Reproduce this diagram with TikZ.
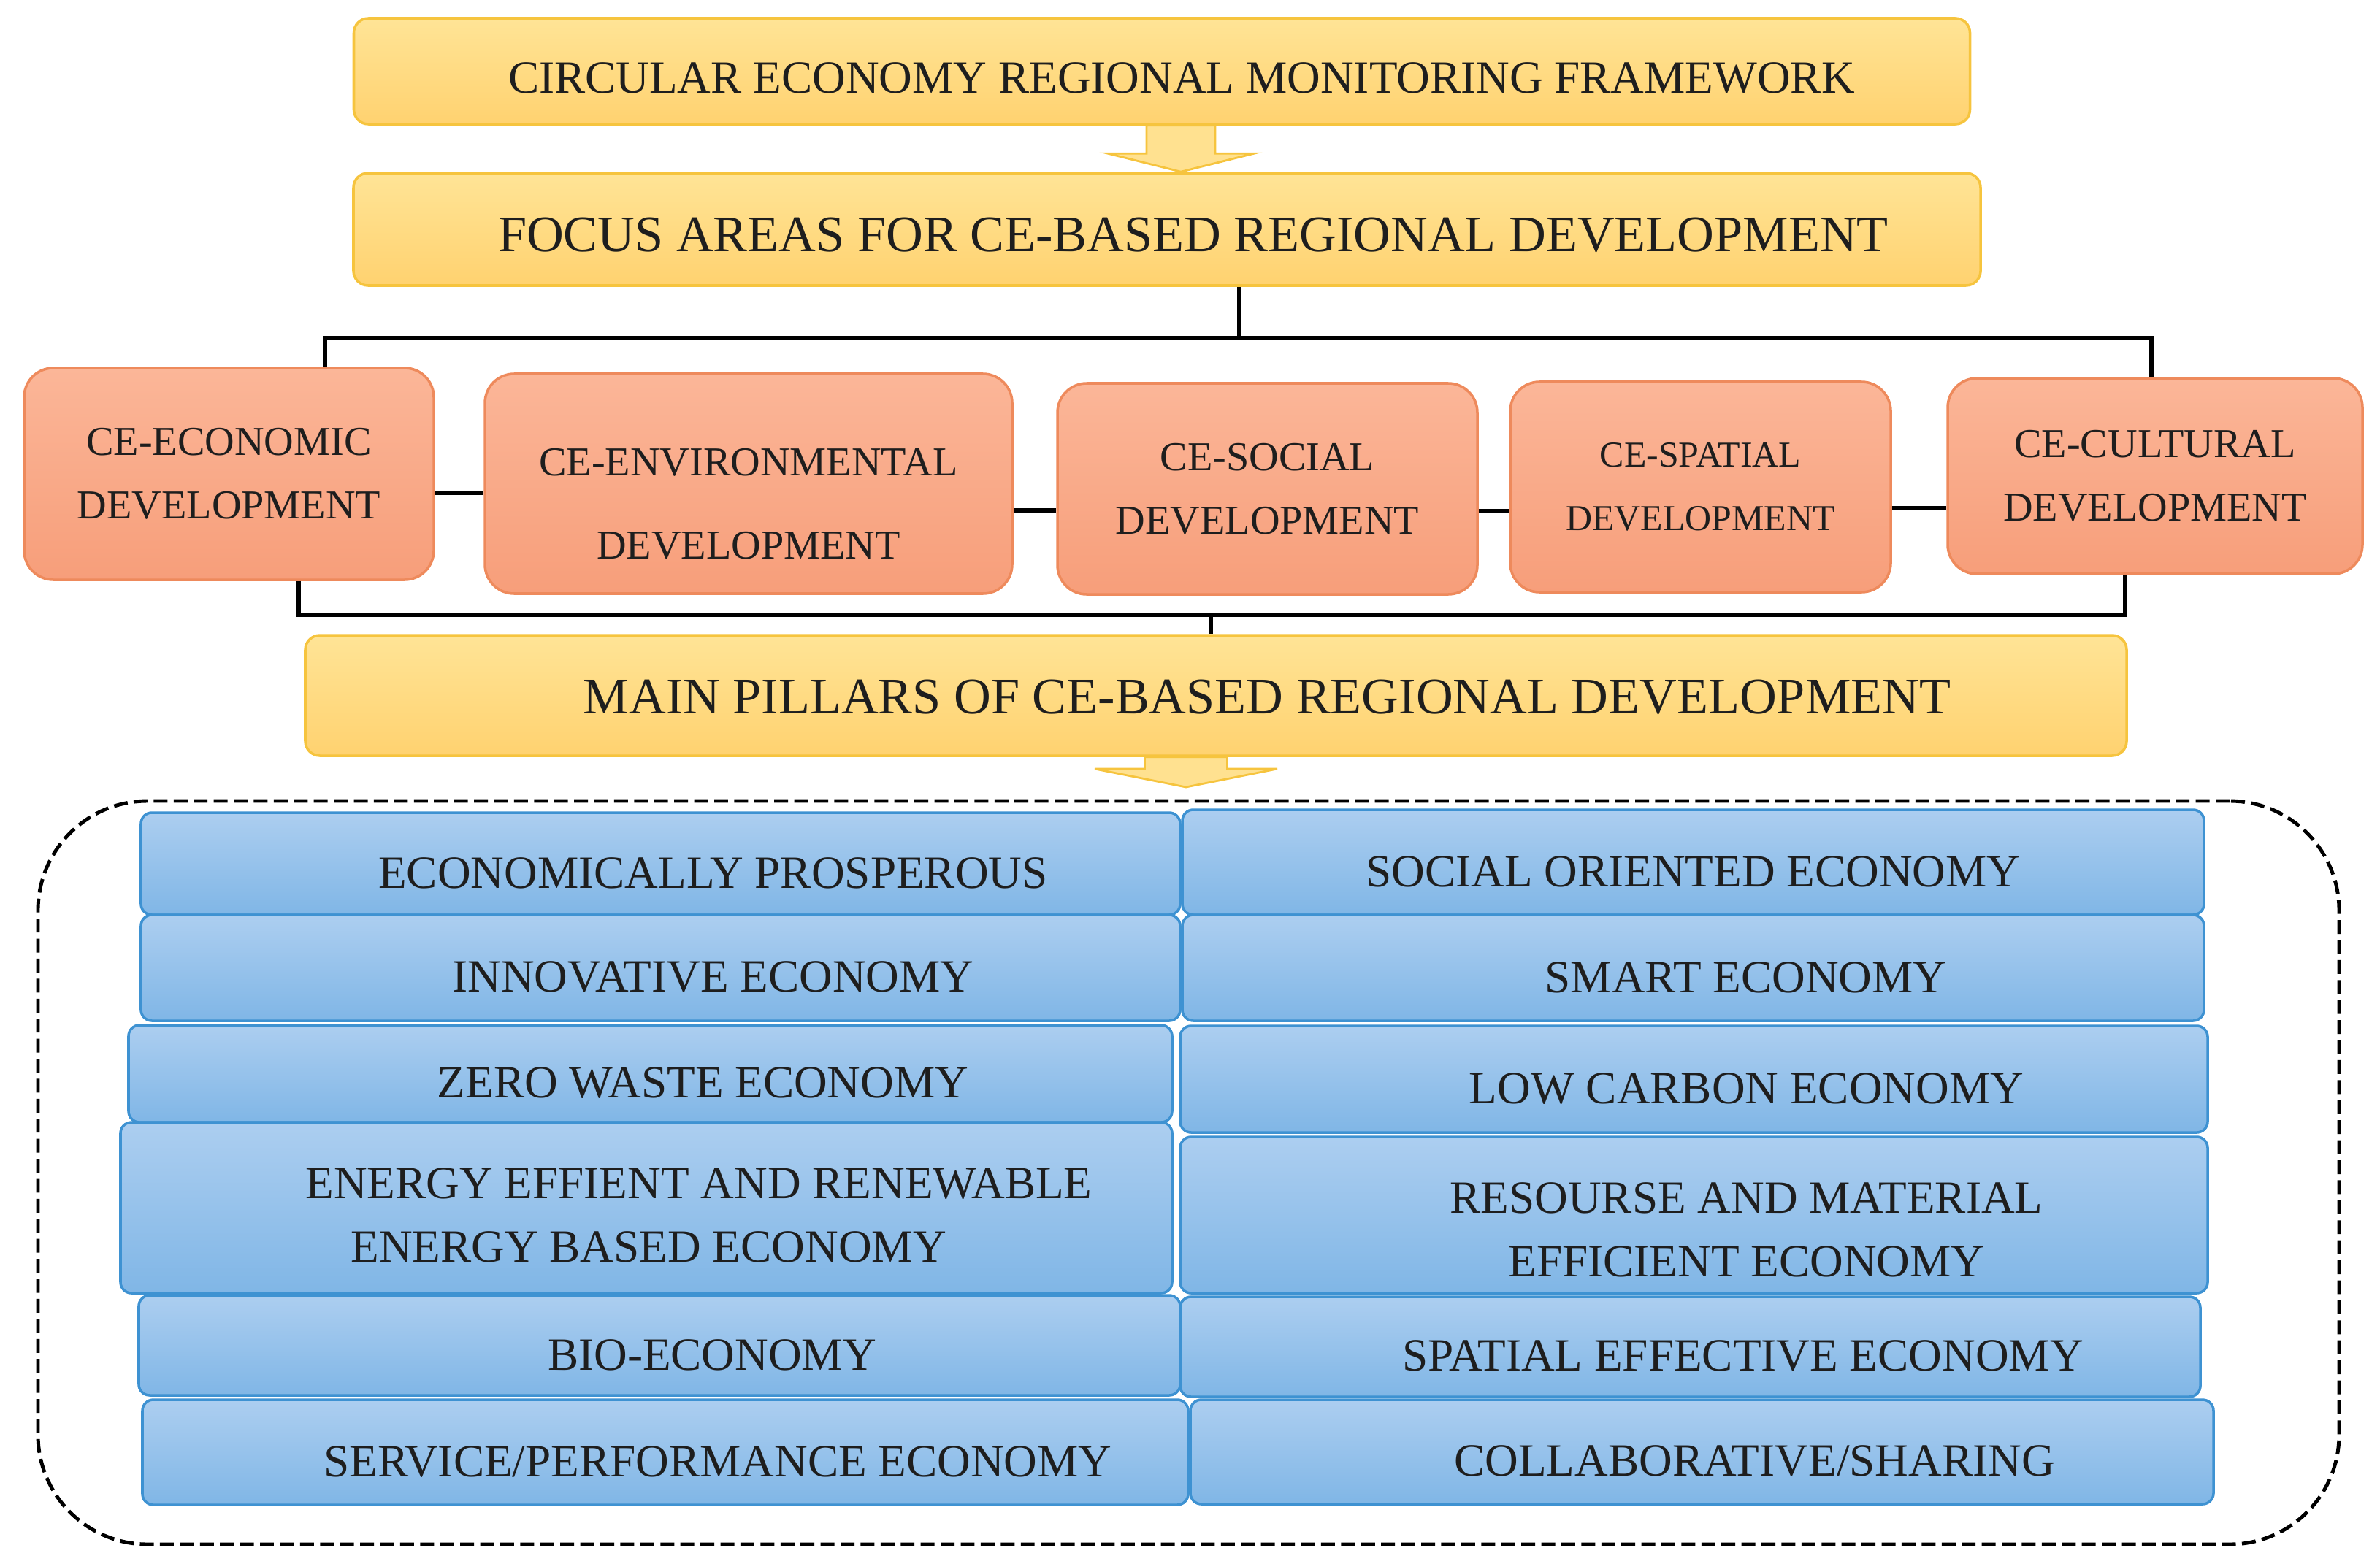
\documentclass[tikz,border=0pt]{standalone}
\usepackage{fontspec}
\setmainfont{Liberation Serif}
\usetikzlibrary{positioning,calc}
\definecolor{bannertop}{RGB}{255,228,150}
\definecolor{bannerbottom}{RGB}{255,210,112}
\definecolor{bannerline}{RGB}{246,196,62}
\definecolor{areatop}{RGB}{251,182,152}
\definecolor{areabottom}{RGB}{247,158,122}
\definecolor{arealine}{RGB}{238,138,92}
\definecolor{pillartop}{RGB}{172,206,240}
\definecolor{pillarbottom}{RGB}{128,182,230}
\definecolor{pillarline}{RGB}{62,146,210}
\definecolor{inkblack}{RGB}{30,30,30}

% wide yellow arrow pointing down: top point, tip point, half shaft, half head
\newcommand{\blockdown}[4]{%
  \draw[blockarrow] ($(#1)+(-#3,0)$) -- ($(#1)+(#3,0)$) -- ($(#2)+(#3,0.25)$) -- ($(#2)+(#4,0.25)$) -- (#2) -- ($(#2)+(-#4,0.25)$) -- ($(#2)+(-#3,0.25)$) -- cycle;}

\begin{document}
\begin{tikzpicture}[
    banner/.style={rectangle, draw=bannerline, line width=1pt, top color=bannertop, bottom color=bannerbottom, rounded corners=0.2cm, inner sep=0pt},
    bannertext/.style={text=inkblack, font=\fontsize{20}{24}\selectfont},
    area/.style={rectangle, draw=arealine, line width=1pt, top color=areatop, bottom color=areabottom, rounded corners=0.4cm, align=center, text=inkblack, font=\fontsize{16}{24.8}\selectfont},
    areatext/.style={align=center, text=inkblack, font=\fontsize{16}{32.5}\selectfont},
    pillar/.style={rectangle, draw=pillarline, line width=1pt, top color=pillartop, bottom color=pillarbottom, rounded corners=0.15cm, inner sep=0pt},
    pillarmid/.style={text=inkblack, align=center, yshift=-0.13cm, font=\fontsize{18}{24.8}\selectfont},
    pillartext/.style={pillarmid, xshift=0.72cm},
    link/.style={line width=1.6pt, black},
    blockarrow/.style={draw=bannerline, line width=0.8pt, fill=bannertop!85!bannerbottom},
    groupframe/.style={draw, line width=1.4pt, dash pattern=on 5.4pt off 2.4pt, rounded corners=1.5cm}
]
\useasboundingbox (0,0) rectangle (32.59,-21.42);

% headings
\node[banner, minimum width=22.13cm, minimum height=1.45cm, label={[bannertext, xshift=0.27cm, yshift=-0.1cm, font=\fontsize{18}{22}\selectfont]center:CIRCULAR ECONOMY REGIONAL MONITORING FRAMEWORK}] (frame) at (15.91,-0.975) {};
\node[banner, minimum width=22.28cm, minimum height=1.54cm, label={[bannertext, xshift=0.36cm, yshift=-0.08cm]center:FOCUS AREAS FOR CE-BASED REGIONAL DEVELOPMENT}] (focus) at (15.98,-3.14) {};
\node[banner, minimum width=24.94cm, minimum height=1.65cm, label={[bannertext, xshift=0.70cm, yshift=-0.02cm]center:MAIN PILLARS OF CE-BASED REGIONAL DEVELOPMENT}] (pillars) at (16.65,-9.525) {};

\coordinate (arrowtop) at (frame.south -| 16.17,0);
\coordinate (arrowtip) at (focus.north -| 16.17,0);
\blockdown{arrowtop}{arrowtip}{0.47}{1.0}

% focus areas
\node[area, minimum width=5.61cm, minimum height=2.90cm] (eco) at (3.135,-6.49) {CE-ECONOMIC\\DEVELOPMENT};
\node[area, minimum width=7.22cm, minimum height=3.01cm, label={[areatext, yshift=-0.28cm]center:CE-ENVIRONMENTAL\\DEVELOPMENT}] (env) at (10.25,-6.625) {};
\node[area, minimum width=5.75cm, minimum height=2.89cm] (soc) at (17.355,-6.695) {CE-SOCIAL\\DEVELOPMENT};
\node[area, minimum width=5.21cm, minimum height=2.88cm, font=\fontsize{14.2}{24.8}\selectfont] (spa) at (23.285,-6.67) {CE-SPATIAL\\DEVELOPMENT};
\node[area, minimum width=5.68cm, minimum height=2.68cm] (cul) at (29.51,-6.52) {CE-CULTURAL\\DEVELOPMENT};

\draw[link] (eco.east |- 0,-6.75) -- (env.west |- 0,-6.75);
\draw[link] (env.east |- 0,-6.99) -- (soc.west |- 0,-6.99);
\draw[link] (soc.east |- 0,-7.00) -- (spa.west |- 0,-7.00);
\draw[link] (spa.east |- 0,-6.96) -- (cul.west |- 0,-6.96);

% brackets
\coordinate (topfork) at (16.97,-4.63);
\draw[link] (focus.south -| topfork) -- (topfork);
\draw[link] (eco.north -| 4.45,0) |- (topfork) -| (cul.north -| 29.46,0);

\coordinate (botfork) at (16.58,-8.42);
\draw[link] (eco.south -| 4.09,0) |- (botfork) -| (cul.south -| 29.10,0);
\draw[link] (botfork) -- (pillars.north -| botfork);

\coordinate (pillartop) at (pillars.south -| 16.24,0);
\coordinate (pillartip) at (16.24,-10.78);
\blockdown{pillartop}{pillartip}{0.565}{1.25}

% pillars
\node[groupframe, minimum width=31.51cm, minimum height=10.18cm] (pillarset) at (16.275,-16.06) {};

\node[pillar, minimum width=14.23cm, minimum height=1.40cm, label={[pillartext]center:ECONOMICALLY PROSPEROUS}] (prosper) at (9.045,-11.83) {};
\node[pillar, minimum width=14.23cm, minimum height=1.45cm, label={[pillartext]center:INNOVATIVE ECONOMY}] (innov) at (9.045,-13.255) {};
\node[pillar, minimum width=14.29cm, minimum height=1.33cm, label={[pillartext]center:ZERO WASTE ECONOMY}] (zerowaste) at (8.905,-14.705) {};
\node[pillar, minimum width=14.40cm, minimum height=2.34cm, label={[pillartext, align=left, yshift=0.03cm]center:ENERGY EFFIENT AND RENEWABLE\\\hspace*{0.62cm}ENERGY BASED ECONOMY}] (energy) at (8.85,-16.54) {};
\node[pillar, minimum width=14.26cm, minimum height=1.37cm, label={[pillartext]center:BIO-ECONOMY}] (bio) at (9.03,-18.425) {};
\node[pillar, minimum width=14.32cm, minimum height=1.44cm, label={[pillartext]center:SERVICE/PERFORMANCE ECONOMY}] (service) at (9.11,-19.89) {};

\node[pillar, minimum width=13.99cm, minimum height=1.44cm, label={[pillarmid]center:SOCIAL ORIENTED ECONOMY}] (social) at (23.185,-11.81) {};
\node[pillar, minimum width=13.99cm, minimum height=1.45cm, label={[pillartext]center:SMART ECONOMY}] (smart) at (23.185,-13.255) {};
\node[pillar, minimum width=14.07cm, minimum height=1.46cm, label={[pillartext]center:LOW CARBON ECONOMY}] (lowcarbon) at (23.195,-14.78) {};
\node[pillar, minimum width=14.07cm, minimum height=2.14cm, label={[pillartext, yshift=-0.07cm]center:RESOURSE AND MATERIAL\\EFFICIENT ECONOMY}] (resource) at (23.195,-16.64) {};
\node[pillar, minimum width=13.97cm, minimum height=1.37cm, label={[pillartext]center:SPATIAL EFFECTIVE ECONOMY}] (spatialeco) at (23.145,-18.445) {};
\node[pillar, minimum width=14.01cm, minimum height=1.43cm, label={[pillartext]center:COLLABORATIVE/SHARING}] (sharing) at (23.305,-19.885) {};

\end{tikzpicture}
\end{document}
